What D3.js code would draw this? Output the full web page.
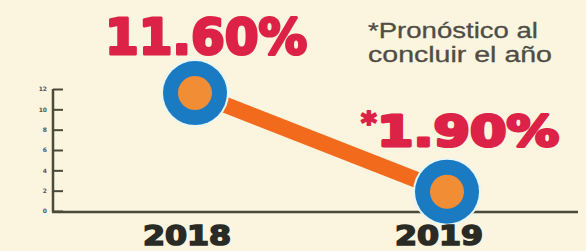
<!DOCTYPE html>
<html>
<head>
<meta charset="utf-8">
<script src="https://cdn.jsdelivr.net/npm/d3@7"></script>
<style>
  body { margin: 0; background: #fbf4df; }
  svg { display: block; }
</style>
</head>
<body>
<svg id="chart" width="586" height="251"></svg>
<script>
// Datos del gráfico
const anios = ['2018', '2019'];
const valores = [11.6, 1.9];
const etiquetas = ['11.60%', '1.90%'];
const ticks = [0, 2, 4, 6, 8, 10, 12];

const svg = d3.select('#chart');
svg.append('rect').attr('width', 586).attr('height', 251).attr('fill', '#fbf4df');

const x = d3.scalePoint().domain(anios).range([195, 447]);
const y = d3.scaleLinear().domain([0, 12]).range([211, 89]);

// Eje vertical con marcas
const eje = d3.axisLeft(y).tickValues(ticks).tickSize(-10).tickPadding(6);
const gEje = svg.append('g').attr('transform', 'translate(53,0)').call(eje);
gEje.select('.domain').remove();
gEje.selectAll('.tick line').attr('stroke', '#4a4a3a').attr('stroke-width', 2);
gEje.selectAll('.tick text')
  .attr('font-family', 'DejaVu Sans')
  .attr('font-weight', 'bold')
  .attr('font-size', 6)
  .attr('fill', '#555');

svg.append('line')
  .attr('x1', 53).attr('x2', 53)
  .attr('y1', y(12)).attr('y2', y(0) + 1)
  .attr('stroke', '#4a4a3a').attr('stroke-width', 2.5);

// Línea base
svg.append('line')
  .attr('x1', 52).attr('x2', 578)
  .attr('y1', y(0) + 1).attr('y2', y(0) + 1)
  .attr('stroke', '#4a4a3a').attr('stroke-width', 2.5);

// Línea naranja
const linea = d3.line().x((d, i) => x(anios[i])).y(d => y(d));
svg.append('path')
  .datum(valores)
  .attr('d', linea)
  .attr('fill', 'none')
  .attr('stroke', '#f26b1d')
  .attr('stroke-width', 16);

// Puntos
const punto = svg.selectAll('.punto')
  .data(valores)
  .enter()
  .append('g')
  .attr('transform', (d, i) => `translate(${x(anios[i])},${y(d)})`);

punto.append('circle').attr('r', 34).attr('fill', '#e8f6f4');
punto.append('circle').attr('r', 32).attr('fill', '#1a7ac2');
punto.append('circle').attr('r', 17).attr('fill', '#f18d35');

// Años
svg.selectAll('.anio')
  .data(anios)
  .enter()
  .append('text')
  .attr('x', d => x(d) - 8)
  .attr('y', 245)
  .attr('text-anchor', 'middle')
  .attr('font-family', 'DejaVu Sans')
  .attr('font-weight', 'bold')
  .attr('font-size', 26)
  .attr('fill', '#2b2b25')
  .attr('stroke', '#2b2b25')
  .attr('stroke-width', 1.6)
  .attr('textLength', 88)
  .attr('lengthAdjust', 'spacingAndGlyphs')
  .text(d => d);

// Valores
const estiloValor = sel => sel
  .attr('font-family', 'DejaVu Sans')
  .attr('font-weight', 'bold')
  .attr('fill', '#dc2246')
  .attr('stroke', '#dc2246')
  .attr('stroke-linejoin', 'round');

svg.append('text')
  .call(estiloValor)
  .attr('x', 105).attr('y', 54)
  .attr('font-size', 50)
  .attr('stroke-width', 3)
  .attr('textLength', 202)
  .attr('lengthAdjust', 'spacingAndGlyphs')
  .text(etiquetas[0]);

svg.append('text')
  .call(estiloValor)
  .attr('x', 361).attr('y', 133)
  .attr('font-size', 30)
  .attr('stroke-width', 2)
  .text('*');

svg.append('text')
  .call(estiloValor)
  .attr('x', 377).attr('y', 146)
  .attr('font-size', 43)
  .attr('stroke-width', 3)
  .attr('textLength', 182)
  .attr('lengthAdjust', 'spacingAndGlyphs')
  .text(etiquetas[1]);

// Nota
const nota = svg.append('text')
  .attr('font-family', 'Liberation Sans Narrow, Liberation Sans')
  .attr('font-size', 22)
  .attr('fill', '#4f4d45')
  .attr('stroke', '#4f4d45')
  .attr('stroke-width', 0.3);
nota.append('tspan').attr('x', 368).attr('y', 38)
  .attr('textLength', 170).attr('lengthAdjust', 'spacingAndGlyphs').text('*Pronóstico al');
nota.append('tspan').attr('x', 368).attr('y', 62)
  .attr('textLength', 184).attr('lengthAdjust', 'spacingAndGlyphs').text('concluir el año');
</script>
</body>
</html>
